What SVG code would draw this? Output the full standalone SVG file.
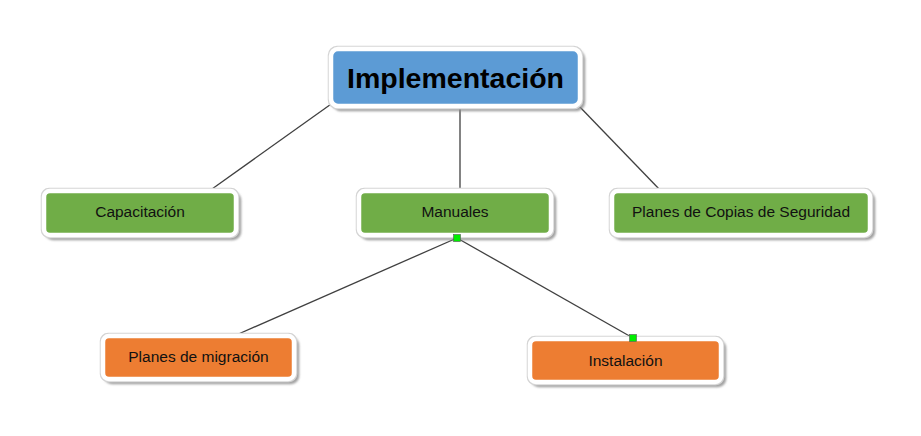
<svg xmlns="http://www.w3.org/2000/svg" width="921" height="436" viewBox="0 0 921 436">
  <defs>
    <filter id="sh" x="-10%" y="-20%" width="125%" height="150%">
      <feGaussianBlur in="SourceAlpha" stdDeviation="1.2"/>
      <feOffset dx="2.5" dy="3" result="off"/>
      <feFlood flood-color="#8a8a8a" flood-opacity="0.8"/>
      <feComposite in2="off" operator="in" result="shadow"/>
      <feMorphology in="SourceAlpha" operator="dilate" radius="0.8" result="dil"/>
      <feFlood flood-color="#d4d4d4"/>
      <feComposite in2="dil" operator="in" result="edge"/>
      <feMerge>
        <feMergeNode in="shadow"/>
        <feMergeNode in="edge"/>
        <feMergeNode in="SourceGraphic"/>
      </feMerge>
    </filter>
    <style>
      .box { stroke: #ffffff; stroke-width: 4.5; filter: url(#sh); }
      .blue { fill: #5B9BD5; }
      .green { fill: #70AD47; }
      .orange { fill: #ED7D31; }
      .lbl { font-family: "Liberation Sans", Arial, sans-serif; font-size: 15.5px; fill: #111111; text-anchor: middle; }
      .title { font-family: "Liberation Sans", Arial, sans-serif; font-size: 28.5px; font-weight: bold; fill: #000000; text-anchor: middle; }
      .line { stroke: #404040; stroke-width: 1.3; fill: none; }
      .dot { fill: #00ee00; stroke: #555555; stroke-width: 0.6; }
    </style>
  </defs>
  <rect width="921" height="436" fill="#ffffff"/>
  <g id="connectors">
    <line class="line" x1="334" y1="102" x2="212" y2="189"/>
    <line class="line" x1="460" y1="106" x2="460" y2="191"/>
    <line class="line" x1="578" y1="105" x2="661" y2="191"/>
    <line class="line" x1="457" y1="238" x2="234" y2="336"/>
    <line class="line" x1="457" y1="238" x2="633" y2="338"/>
  </g>
  <g id="implementacion">
    <rect class="box blue" x="331" y="49" width="249" height="57" rx="7"/>
    <text class="title" x="455.5" y="88">Implementación</text>
  </g>
  <g id="capacitacion">
    <rect class="box green" x="44" y="191" width="192" height="44" rx="6"/>
    <text class="lbl" x="140" y="217">Capacitación</text>
  </g>
  <g id="manuales">
    <rect class="box green" x="359" y="191" width="192" height="44" rx="6"/>
    <text class="lbl" x="455" y="217">Manuales</text>
  </g>
  <g id="planes-copias">
    <rect class="box green" x="612" y="191" width="258" height="44" rx="6"/>
    <text class="lbl" x="741" y="217">Planes de Copias de Seguridad</text>
  </g>
  <g id="planes-migracion">
    <rect class="box orange" x="103" y="336" width="191" height="43" rx="6"/>
    <text class="lbl" x="198.5" y="362">Planes de migración</text>
  </g>
  <g id="instalacion">
    <rect class="box orange" x="530" y="339" width="191" height="43" rx="6"/>
    <text class="lbl" x="625.5" y="366">Instalación</text>
  </g>
  <g id="handles">
    <rect class="dot" x="453.5" y="234.5" width="7" height="7"/>
    <rect class="dot" x="629.5" y="334.5" width="7" height="7"/>
  </g>
</svg>
